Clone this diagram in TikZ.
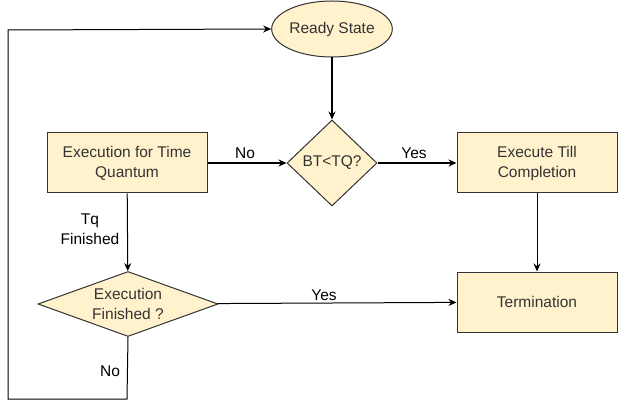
\documentclass[tikz,border=0pt]{standalone}
\usepackage{fontspec}
\setmainfont{Liberation Sans}
\usetikzlibrary{shapes.geometric,arrows.meta}
\definecolor{boxfill}{HTML}{FFF2CC}
\definecolor{boxline}{HTML}{333333}
\definecolor{txt}{HTML}{333333}
\begin{document}
\begin{tikzpicture}[x=1pt,y=-1pt,
  every node/.style={font=\fontsize{15.5}{20}\selectfont},
  procbox/.style={draw=boxline,fill=boxfill,line width=1pt,rectangle,minimum width=160pt,minimum height=60pt,inner sep=0pt,align=center,text=txt},
  decbox/.style={draw=boxline,fill=boxfill,line width=1pt,diamond,inner sep=0pt,align=center,text=txt},
  statebox/.style={draw=boxline,fill=boxfill,line width=1pt,ellipse,minimum width=100pt,minimum height=56pt,inner sep=0pt,text=txt},
  conn/.style={line width=1pt,-{Stealth[length=8pt,width=7pt]}},
  thickconn/.style={line width=1.8pt,-{Stealth[length=8pt,width=7pt]}},
  lbl/.style={inner sep=0pt,align=center,text=black}
]
\useasboundingbox (0,0) rectangle (618,403);
\node[statebox] (ready) at (332,29) {Ready State};
\node[decbox,minimum width=90pt,minimum height=86pt,aspect=1.05] (bt) at (332,163) {BT<TQ?};
\node[procbox] (exq) at (127,163) {Execution for Time\\Quantum};
\node[procbox] (etc) at (537,163) {Execute Till\\Completion};
\node[procbox] (term) at (537,302) {Termination};
\node[decbox,minimum width=180pt,minimum height=65pt,aspect=2.77] (ef) at (128,304) {Execution\\Finished ?};
\coordinate (c1) at (127,399);
\coordinate (c2) at (8,399);
\coordinate (c3) at (8,30);

\draw[thickconn] (ready) -- (bt);
\draw[thickconn] (exq) -- (bt);
\draw[thickconn] (bt) -- (etc);
\draw[conn] (etc) -- (term);
\draw[conn] (exq) -- (ef);
\draw[conn] (ef) -- (term);
\draw[conn] (ef.south) -- (c1) -- (c2) -- (c3) -- (ready.west);

\node[lbl] (lno1) at (245,153) {No};
\node[lbl] (lyes1) at (414,153) {Yes};
\node[lbl] (ltq) at (90,229) {Tq\\Finished};
\node[lbl] (lyes2) at (324,295) {Yes};
\node[lbl,fill=white,inner sep=1pt] (lno2) at (110,371) {No};
\end{tikzpicture}
\end{document}
